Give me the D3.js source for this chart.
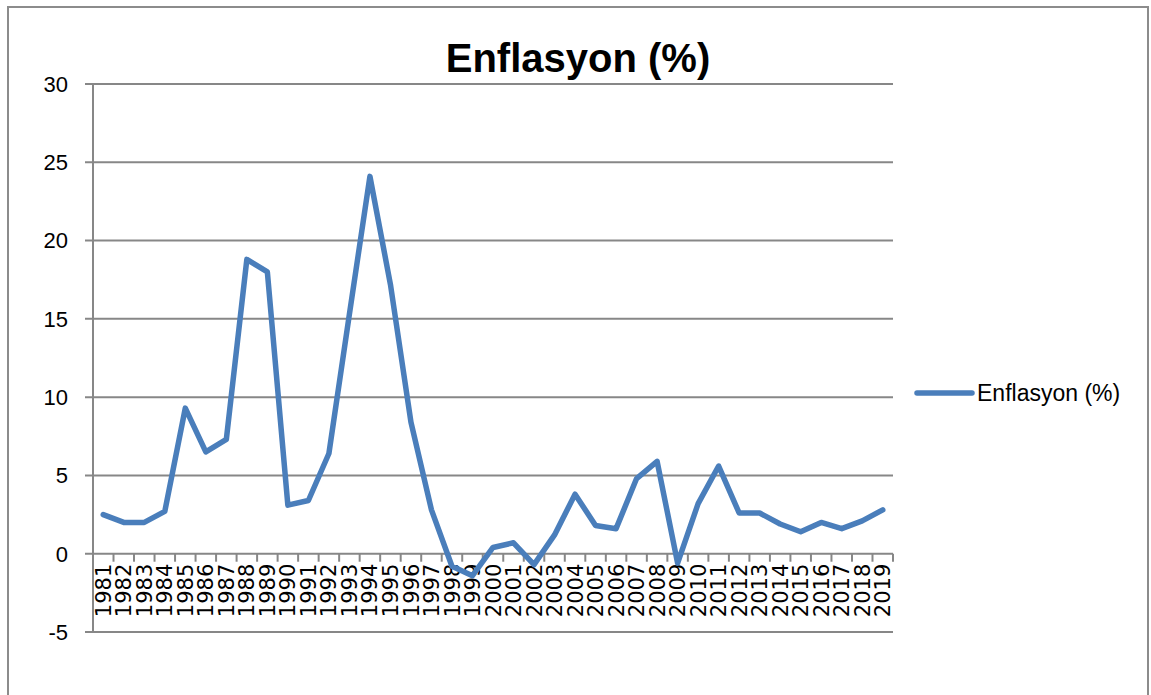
<!DOCTYPE html>
<html>
<head>
<meta charset="utf-8">
<script src="https://cdn.jsdelivr.net/npm/d3@7"></script>
<style>
  html, body { margin: 0; padding: 0; background: #fff; }
  svg { display: block; }
</style>
</head>
<body>
<div id="chart"></div>
<script>
// Data
const years = d3.range(1981, 2020).map(String);
const inflation = [
  2.5, 2.0, 2.0, 2.7, 9.3, 6.5, 7.3, 18.8, 18.0, 3.1,
  3.4, 6.4, 15.3, 24.1, 17.2, 8.4, 2.8, -0.8, -1.4, 0.4,
  0.7, -0.7, 1.2, 3.8, 1.8, 1.6, 4.8, 5.9, -0.6, 3.2,
  5.6, 2.6, 2.6, 1.9, 1.4, 2.0, 1.6, 2.1, 2.8
];
const yTicks = [-5, 0, 5, 10, 15, 20, 25, 30];
const seriesName = 'Enflasyon (%)';

const W = 1151, H = 695;
const plot = { left: 93, right: 893, top: 84, bottom: 632 };
const lineColor = '#4a7ebb';
const gridColor = '#878787';

const svg = d3.select('#chart').append('svg')
  .attr('width', W).attr('height', H);

// outer chart border
svg.append('rect')
  .attr('x', 8).attr('y', 7)
  .attr('width', 1140).attr('height', 720)
  .attr('fill', '#fff')
  .attr('stroke', '#8c8c8c').attr('stroke-width', 2);

const x = d3.scaleBand().domain(years).range([plot.left, plot.right]);
const y = d3.scaleLinear().domain([-5, 30]).range([plot.bottom, plot.top]);
const cx = d => x(d) + x.bandwidth() / 2;

// horizontal gridlines
svg.append('g').selectAll('line')
  .data(yTicks)
  .join('line')
  .attr('x1', plot.left - 8).attr('x2', plot.right)
  .attr('y1', d => y(d)).attr('y2', d => y(d))
  .attr('stroke', gridColor).attr('stroke-width', 2);

// y labels
svg.append('g').selectAll('text')
  .data(yTicks)
  .join('text')
  .attr('x', 68).attr('y', d => y(d))
  .attr('dy', '0.36em')
  .attr('text-anchor', 'end')
  .attr('font-family', '"Liberation Sans", Arial, sans-serif')
  .attr('font-size', 22)
  .attr('fill', '#000')
  .text(d => d);

// vertical axis line
svg.append('line')
  .attr('x1', plot.left).attr('x2', plot.left)
  .attr('y1', plot.top).attr('y2', plot.bottom)
  .attr('stroke', gridColor).attr('stroke-width', 2);

// category ticks on zero line
const tickPos = years.map(d => x(d)).concat([plot.right]);
svg.append('g').selectAll('line')
  .data(tickPos)
  .join('line')
  .attr('x1', d => d).attr('x2', d => d)
  .attr('y1', y(0)).attr('y2', y(0) + 8)
  .attr('stroke', gridColor).attr('stroke-width', 2);

// x labels (rotated)
svg.append('g').selectAll('text')
  .data(years)
  .join('text')
  .attr('transform', d => `translate(${cx(d)},${y(0) + 10}) rotate(-90)`)
  .attr('dy', '0.36em')
  .attr('text-anchor', 'end')
  .attr('font-family', '"DejaVu Sans", sans-serif')
  .attr('font-size', 21)
  .attr('fill', '#000')
  .text(d => d);

// series line
const line = d3.line()
  .x((d, i) => cx(years[i]))
  .y(d => y(d));

svg.append('path')
  .datum(inflation)
  .attr('fill', 'none')
  .attr('stroke', lineColor)
  .attr('stroke-width', 5.5)
  .attr('stroke-linejoin', 'round')
  .attr('stroke-linecap', 'round')
  .attr('d', line);

// title
svg.append('text')
  .attr('x', 578).attr('y', 72)
  .attr('text-anchor', 'middle')
  .attr('font-family', '"Liberation Sans", Arial, sans-serif')
  .attr('font-weight', 'bold')
  .attr('font-size', 40)
  .attr('fill', '#000')
  .text(seriesName);

// legend
const legend = svg.append('g').attr('transform', 'translate(917,393)');
legend.append('line')
  .attr('x1', 0).attr('x2', 55)
  .attr('stroke', lineColor).attr('stroke-width', 5.5)
  .attr('stroke-linecap', 'round');
legend.append('text')
  .attr('x', 60).attr('dy', '0.36em')
  .attr('font-family', '"Liberation Sans", Arial, sans-serif')
  .attr('font-size', 23)
  .attr('fill', '#000')
  .text(seriesName);
</script>
</body>
</html>
